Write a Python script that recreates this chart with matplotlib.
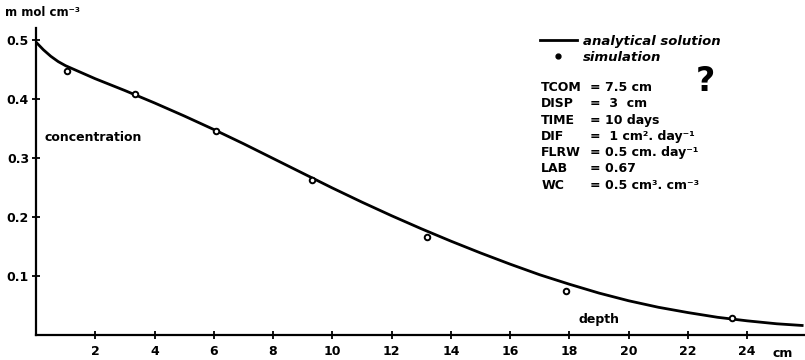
import numpy as np
import matplotlib
import matplotlib.pyplot as plt
from matplotlib.lines import Line2D

matplotlib.use('agg')

# analytical solution, concentration vs depth
depth = [0, 0.25, 0.5, 0.75, 1, 1.5, 2, 3, 4, 5, 6, 7, 8, 9, 10, 11, 12,
         13, 14, 15, 16, 17, 18, 19, 20, 21, 22, 23, 24, 25, 25.9]
conc = [0.496, 0.483, 0.472, 0.463, 0.456, 0.445, 0.434, 0.414, 0.393,
        0.371, 0.348, 0.324, 0.299, 0.274, 0.249, 0.225, 0.202, 0.180,
        0.159, 0.139, 0.120, 0.102, 0.086, 0.071, 0.058, 0.047, 0.038,
        0.030, 0.024, 0.019, 0.016]

# simulation results
sim_depth = [1.04, 3.34, 6.07, 9.3, 13.2, 17.9, 23.5]
sim_conc = [0.447, 0.408, 0.346, 0.263, 0.166, 0.075, 0.029]

xticks = [2, 4, 6, 8, 10, 12, 14, 16, 18, 20, 22, 24]
yticks = [0.1, 0.2, 0.3, 0.4, 0.5]

param_names = ['TCOM', 'DISP', 'TIME', 'DIF', 'FLRW', 'LAB', 'WC']
param_values = ['= 7.5 cm', '=  3  cm', '= 10 days', '=  1 cm². day⁻¹',
                '= 0.5 cm. day⁻¹', '= 0.67', '= 0.5 cm³. cm⁻³']

plt.rcParams['font.family'] = 'DejaVu Sans'
plt.rcParams['font.weight'] = 'bold'
fs = 9

fig = plt.figure(figsize=(8.05, 3.6), dpi=100)
ax = fig.add_axes([0.0447, 0.0694, 0.9553, 0.853])

ax.plot(depth, conc, c='k', lw=2.0, solid_capstyle='butt')
ax.plot(sim_depth, sim_conc, ls='none', marker='o', ms=4,
        mfc='white', mec='k', mew=1.4)

ax.set_xlim(0, 25.95)
ax.set_ylim(0, 0.52)

for s in ['top', 'right']:
    ax.spines[s].set_visible(False)
for s in ['left', 'bottom']:
    ax.spines[s].set_linewidth(1.6)

ax.set_xticks(xticks)
ax.set_yticks(yticks)
ax.set_xticklabels([str(t) for t in xticks], fontsize=fs, fontweight='bold')
ax.set_yticklabels(['%.1f' % t for t in yticks], fontsize=fs, fontweight='bold')
ax.tick_params(axis='x', direction='inout', length=6, width=1.3, pad=4)
ax.tick_params(axis='y', direction='inout', length=6, width=1.3, pad=2)

xtrans = ax.get_xaxis_transform()
ax.text(25.2, -0.04, 'cm', transform=xtrans, ha='center', va='top',
        fontsize=fs, fontweight='bold')

fig.text(5 / 805, 1 - 13 / 360, 'm mol cm⁻³', ha='left', va='center',
         fontsize=8.5, fontweight='bold')

ax.text(0.3, 0.334, 'concentration', ha='left', va='center',
        fontsize=fs, fontweight='bold')
ax.text(19.0, 0.026, 'depth', ha='center', va='center',
        fontsize=fs, fontweight='bold')

# model parameters
y0 = 0.419
dy = 0.0275
for i in range(len(param_names)):
    ax.text(17.05, y0 - i * dy, param_names[i], ha='left', va='center',
            fontsize=fs, fontweight='bold')
    ax.text(18.7, y0 - i * dy, param_values[i], ha='left', va='center',
            fontsize=fs, fontweight='bold')

ax.text(22.6, 0.43, '?', ha='center', va='center', fontsize=24,
        fontweight='bold')

handles = [Line2D([], [], c='k', lw=2.0),
           Line2D([], [], ls='none', marker='o', ms=3.5, mfc='k', mec='k')]
legend = ax.legend(handles=handles, labels=['analytical solution', 'simulation'],
                   loc='upper left', bbox_to_anchor=(0.655, 0.978),
                   frameon=False, borderaxespad=0, borderpad=0,
                   handlelength=2.8, handletextpad=0.45, labelspacing=0.25,
                   prop={'size': 9.5, 'style': 'italic', 'weight': 'bold'})

plt.savefig('out.png', dpi=100)
